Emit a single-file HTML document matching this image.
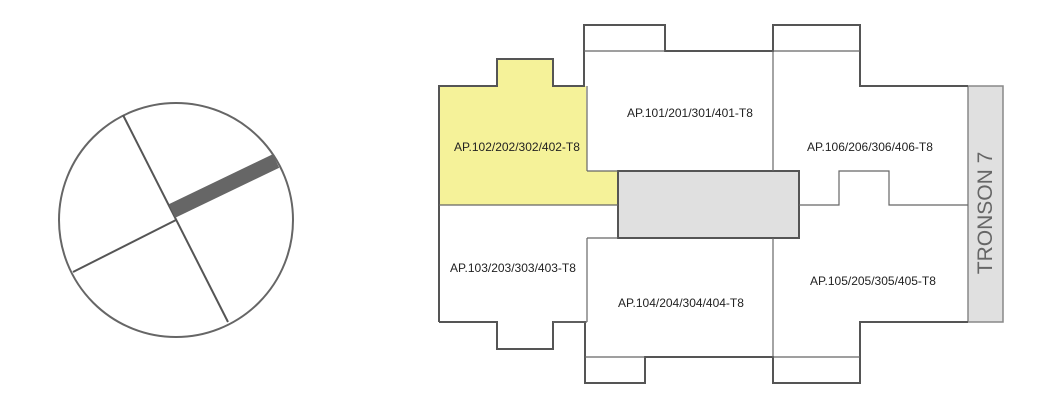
<!DOCTYPE html>
<html><head><meta charset="utf-8"><style>
html,body{margin:0;padding:0;background:#fff;}
svg{display:block;}
text{font-family:"Liberation Sans","DejaVu Sans",sans-serif;}
</style></head><body>
<svg width="1062" height="402" viewBox="0 0 1062 402" xmlns="http://www.w3.org/2000/svg">
<rect width="1062" height="402" fill="#fff"/>
<!-- compass -->
<circle cx="176" cy="220" r="117" fill="#fff" stroke="#666" stroke-width="2"/>
<line x1="123" y1="115" x2="228" y2="322" stroke="#555" stroke-width="2"/>
<line x1="73" y1="272" x2="176" y2="220" stroke="#555" stroke-width="2"/>
<line x1="172" y1="211" x2="276" y2="161" stroke="#666" stroke-width="15"/>

<!-- yellow unit -->
<polygon points="439,86 586,86 587,171 618,171 618,205 439,205" fill="#f5f299"/>
<rect x="497" y="59" width="56" height="27" fill="#f5f299"/>
<!-- tronson -->
<rect x="968" y="86" width="35" height="236" fill="#e0e0e0" stroke="#888" stroke-width="1.5"/>
<text x="0" y="0" transform="translate(992,213) rotate(-90)" text-anchor="middle" font-size="21" fill="#666">TRONSON 7</text>
<!-- gray core -->
<rect x="618" y="171" width="181" height="67" fill="#e0e0e0" stroke="#555" stroke-width="2"/>

<g fill="none" stroke="#555" stroke-width="2">
<polyline points="439,322 439,86 497,86 497,59 553,59 553,86 584,86 584,25 665,25 665,51 773,51 773,25 860,25 860,86 968,86"/>
<polyline points="968,322 860,322 860,357 860,383 773,383 773,357 645,357 645,383 585,383 585,322 553,322 553,349 497,349 497,322 439,322"/>
</g>
<g fill="none" stroke="#666" stroke-width="1.2">
<line x1="584" y1="51" x2="665" y2="51"/>
<line x1="773" y1="51" x2="860" y2="51"/>
<line x1="587" y1="86" x2="587" y2="171"/>
<line x1="587" y1="171" x2="618" y2="171"/>
<line x1="439" y1="205" x2="618" y2="205"/>
<line x1="773" y1="51" x2="773" y2="171"/>
<line x1="773" y1="238" x2="773" y2="357"/>
<line x1="587" y1="238" x2="618" y2="238"/>
<line x1="587" y1="238" x2="587" y2="322"/>
<line x1="553" y1="322" x2="587" y2="322"/>
<line x1="585" y1="357" x2="645" y2="357"/>
<line x1="773" y1="357" x2="860" y2="357"/>
<polyline points="799,205 839,205 839,171 889,171 889,205 968,205"/>
</g>

<g font-size="12" fill="#222" text-anchor="middle">
<text x="690" y="117">AP.101/201/301/401-T8</text>
<text x="517" y="151">AP.102/202/302/402-T8</text>
<text x="513" y="272">AP.103/203/303/403-T8</text>
<text x="681" y="307">AP.104/204/304/404-T8</text>
<text x="870" y="151">AP.106/206/306/406-T8</text>
<text x="873" y="285">AP.105/205/305/405-T8</text>
</g>
</svg>
</body></html>
